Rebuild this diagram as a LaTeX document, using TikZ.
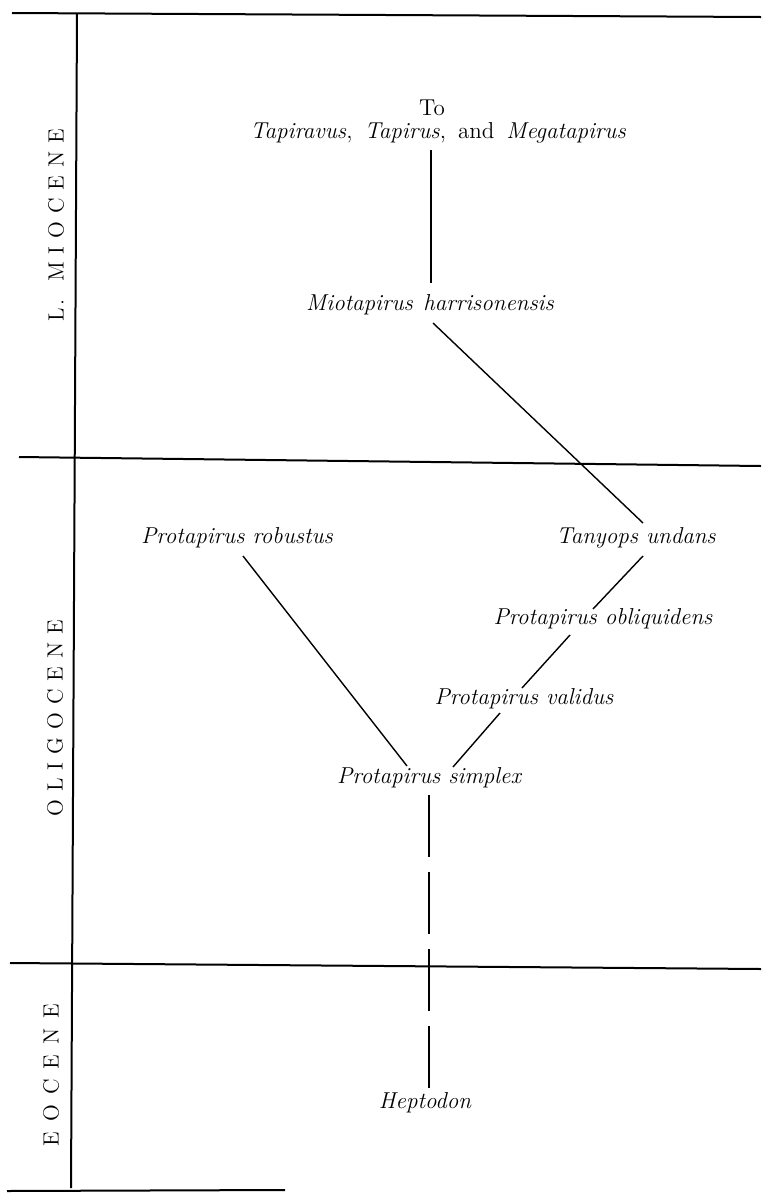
\documentclass[tikz,border=0pt]{standalone}
\usetikzlibrary{calc}
\newcommand{\lsp}{\hspace{4pt}}
\newcommand{\wsp}{\hspace{5pt}}
\newcommand{\gsp}{\hspace{6pt}}
\begin{document}
\begin{tikzpicture}[x=0.5pt,y=-0.5pt,
  frame/.style={line width=1pt},
  link/.style={line width=0.7pt},
  taxon/.style={inner sep=0pt,font=\fontsize{11.5}{13}\selectfont\itshape},
  period/.style={inner sep=0pt,rotate=90,font=\fontsize{11}{13}\selectfont}]
\fill[white] (0,0) rectangle (761,1195);
\useasboundingbox (0,0) rectangle (761,1195);

% time-scale frame
\draw[frame] (12,13) -- (761,17);
\draw[frame] (77,14) -- (71,1188);
\draw[frame] (19,457) -- (761,466);
\draw[frame] (10,963) -- (761,969);
\draw[frame] (7,1191) -- (285,1190);

% period names
\node[period] (mioc) at (56,225) {L\hspace{1pt}.\hspace{9pt}M\lsp I\lsp O\lsp C\lsp E\lsp N\lsp E};
\node[period] (olig) at (55,718) {O\lsp L\lsp I\lsp G\lsp O\lsp C\lsp E\lsp N\lsp E};
\node[period] (eoc)  at (51,1075) {E\wsp O\wsp C\wsp E\wsp N\wsp E};

% taxa
\node[inner sep=0pt,font=\fontsize{11.5}{13}\selectfont] (to) at (432,108) {To};
\node[taxon] (tapirs) at (438,133) {Tapiravus\/{\upshape,}\gsp Tapirus\/{\upshape,}\gsp {\upshape and}\gsp Megatapirus};
\node[taxon] (mio)  at (430,305) {Miotapirus\hspace{0.45em}harrisonensis};
\node[taxon] (rob)  at (237,538) {Protapirus robustus};
\node[taxon] (tany) at (636,538) {Tanyops undans};
\node[taxon] (obl)  at (603,619) {Protapirus obliquidens};
\node[taxon] (val)  at (524,699) {Protapirus validus};
\node[taxon] (simp) at (429,778) {Protapirus simplex};
\node[taxon] (hept) at (425,1103) {Heptodon};

% lines of descent
\draw[link] ($(tapirs)+(-7,17)$) -- ($(mio)+(1,-22)$);
\draw[link] ($(mio)+(3,18)$) -- ($(tany)+(7,-15)$);
\draw[link] ($(tany)+(7,18)$) -- ($(obl)+(-10,-10)$);
\draw[link] ($(obl)+(-33,16)$) -- ($(val)+(-2,-11)$);
\draw[link] ($(val)+(-24,14)$) -- ($(simp)+(24,-11)$);
\draw[link] ($(rob)+(6,18)$) -- ($(simp)+(-22,-12)$);
\draw[link,dash pattern=on 31pt off 7.5pt] ($(simp)+(0,17)$) -- ($(hept)+(4,-13)$);
\end{tikzpicture}
\end{document}
